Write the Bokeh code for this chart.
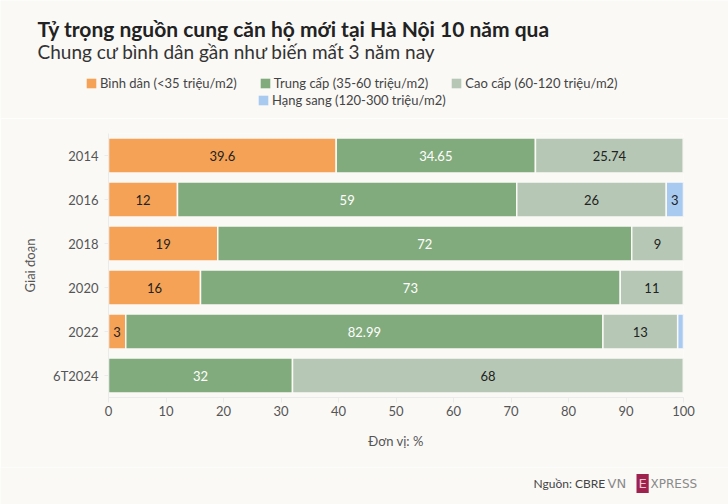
import numpy as np
from bokeh.plotting import figure
from bokeh.layouts import column
from bokeh.models import (ColumnDataSource, Label, Legend, LegendItem, FactorRange,
                          FixedTicker, Range1d)
from bokeh.core.properties import value
from bokeh.embed import file_html
from bokeh.resources import INLINE

# ---- data ----
periods = ["2014", "2016", "2018", "2020", "2022", "6T2024"]
binh_dan = [39.6, 12, 19, 16, 3, 0]
trung_cap = [34.65, 59, 72, 73, 82.99, 32]
cao_cap = [25.74, 26, 9, 11, 13, 68]
hang_sang = [0, 3, 0, 0, 1.01, 0]
series_names = ["Bình dân (<35 triệu/m2)", "Trung cấp (35-60 triệu/m2)",
                "Cao cấp (60-120 triệu/m2)", "Hạng sang (120-300 triệu/m2)"]
x_ticks = [0, 10, 20, 30, 40, 50, 60, 70, 80, 90, 100]

title = "Tỷ trọng nguồn cung căn hộ mới tại Hà Nội 10 năm qua"
subtitle = "Chung cư bình dân gần như biến mất 3 năm nay"
source_text = "Nguồn: CBRE"

# ---- style ----
BG = "#faf9f6"
colors = ["#f5a256", "#82ab7d", "#b6c8b5", "#a9caf0"]
text_colors = ["#222222", "#ffffff", "#222222", "#222222"]
FONT = "Lato"
W = 728


def blank_fig(h):
    f = figure(width=W, height=h, output_backend="svg", toolbar_location=None,
               x_range=Range1d(0, 1), y_range=Range1d(0, 1),
               x_axis_type=None, y_axis_type=None,
               min_border=0, min_border_left=0, min_border_right=0,
               min_border_top=0, min_border_bottom=0)
    f.background_fill_color = BG
    f.border_fill_color = BG
    f.outline_line_color = None
    f.grid.grid_line_color = None
    f.frame_align = False
    return f


# ---- header ----
HH = 118
hdr = blank_fig(HH)
hdr.add_layout(Label(x=37, y=HH - 28, x_units="screen", y_units="screen", text=title,
                     text_font=FONT, text_font_size="21px", text_font_style="bold",
                     text_color="#222222", text_baseline="middle"))
hdr.add_layout(Label(x=37, y=HH - 51, x_units="screen", y_units="screen", text=subtitle,
                     text_font=FONT, text_font_size="19px", text_color="#333333",
                     text_baseline="middle"))
# legend swatch renderers (kept outside the visible range of the header)
dummy = []
for col in colors:
    dummy.append(hdr.hbar(y=[-5], left=[-5], right=[-4], height=0.5, fill_color=col,
                          line_color=None))
items1 = [LegendItem(label=series_names[i], renderers=[dummy[i]]) for i in range(3)]
items2 = [LegendItem(label=series_names[3], renderers=[dummy[3]])]
for items, loc in ((items1, (85, HH - 91)), (items2, (257, HH - 108))):
    lg = Legend(items=items, orientation="horizontal", location=loc,
                background_fill_alpha=0, border_line_color=None,
                label_text_font=FONT, label_text_font_size="13px",
                label_text_color="#444444", glyph_width=12, glyph_height=12,
                label_standoff=3, spacing=22, padding=0, margin=0)
    hdr.add_layout(lg, "center")

# ---- main chart ----
p = figure(width=W, height=349, output_backend="svg", toolbar_location=None,
           y_range=FactorRange(*reversed(periods), range_padding=0),
           x_range=Range1d(0, 100),
           min_border_left=108, min_border_right=45, min_border_top=15, min_border_bottom=70)
p.background_fill_color = BG
p.border_fill_color = BG
p.outline_line_color = None
p.ygrid.grid_line_color = None
p.xgrid.grid_line_color = None
p.frame_align = False

series = [binh_dan, trung_cap, cao_cap, hang_sang]
left = np.zeros(len(periods))
for vals, col, tcol in zip(series, colors, text_colors):
    vals = np.array(vals, dtype=float)
    right = left + vals
    src = ColumnDataSource(dict(y=periods, left=left.copy(), right=right, v=vals,
                                mid=(left + right) / 2,
                                lab=[("%g" % v) if v >= 2 else "" for v in vals]))
    p.hbar(y="y", left="left", right="right", height=0.8, source=src,
           fill_color=col, line_color=BG, line_width=1.5)
    p.text(x="mid", y="y", text="lab", source=src, text_align="center",
           text_baseline="middle", text_color=tcol, text_font_size="13px",
           text_font=value(FONT))
    left = right

p.xaxis.ticker = FixedTicker(ticks=x_ticks)
p.xaxis.axis_label = "Đơn vị: %"
p.yaxis.axis_label = "Giai đoạn"
for ax in (p.xaxis[0], p.yaxis[0]):
    ax.axis_line_color = "#ebebeb"
    ax.major_tick_line_color = "#ebebeb"
    ax.minor_tick_line_color = None
    ax.major_label_text_font = FONT
    ax.major_label_text_font_size = "13px"
    ax.major_label_text_color = "#555555"
    ax.axis_label_text_font = FONT
    ax.axis_label_text_font_size = "13px"
    ax.axis_label_text_color = "#555555"
    ax.axis_label_text_font_style = "normal"
p.xaxis.major_tick_in = 0
p.xaxis.major_tick_out = 5
p.yaxis.major_tick_in = 0
p.yaxis.major_tick_out = 4
p.xaxis.major_label_standoff = 3
p.xaxis.axis_label_standoff = 14
p.yaxis.major_label_standoff = 6
p.yaxis.axis_label_standoff = 12

# ---- footer ----
FH = 37
ftr = blank_fig(FH)
LOGO_FONT = "DejaVu Sans"
fy = FH - 16
ftr.add_layout(Label(x=533, y=fy, x_units="screen", y_units="screen", text=source_text,
                     text_font=FONT, text_font_size="12px", text_color="#444444",
                     text_baseline="middle"))
ftr.add_layout(Label(x=607, y=fy, x_units="screen", y_units="screen", text="VN",
                     text_font=LOGO_FONT, text_font_size="13px", text_color="#8a8a8a",
                     text_baseline="middle"))
ftr.add_layout(Label(x=636, y=fy, x_units="screen", y_units="screen", text="E",
                     text_font=LOGO_FONT, text_font_size="13px", text_color="#f3c6d6",
                     text_baseline="middle", background_fill_color="#9f224e",
                     padding=2))
ftr.add_layout(Label(x=650, y=fy, x_units="screen", y_units="screen", text="XPRESS",
                     text_font=LOGO_FONT, text_font_size="12px", text_color="#8a8a8a",
                     text_baseline="middle"))

layout = column(hdr, p, ftr, spacing=0)
open("out.html", "w").write(file_html(layout, INLINE))
